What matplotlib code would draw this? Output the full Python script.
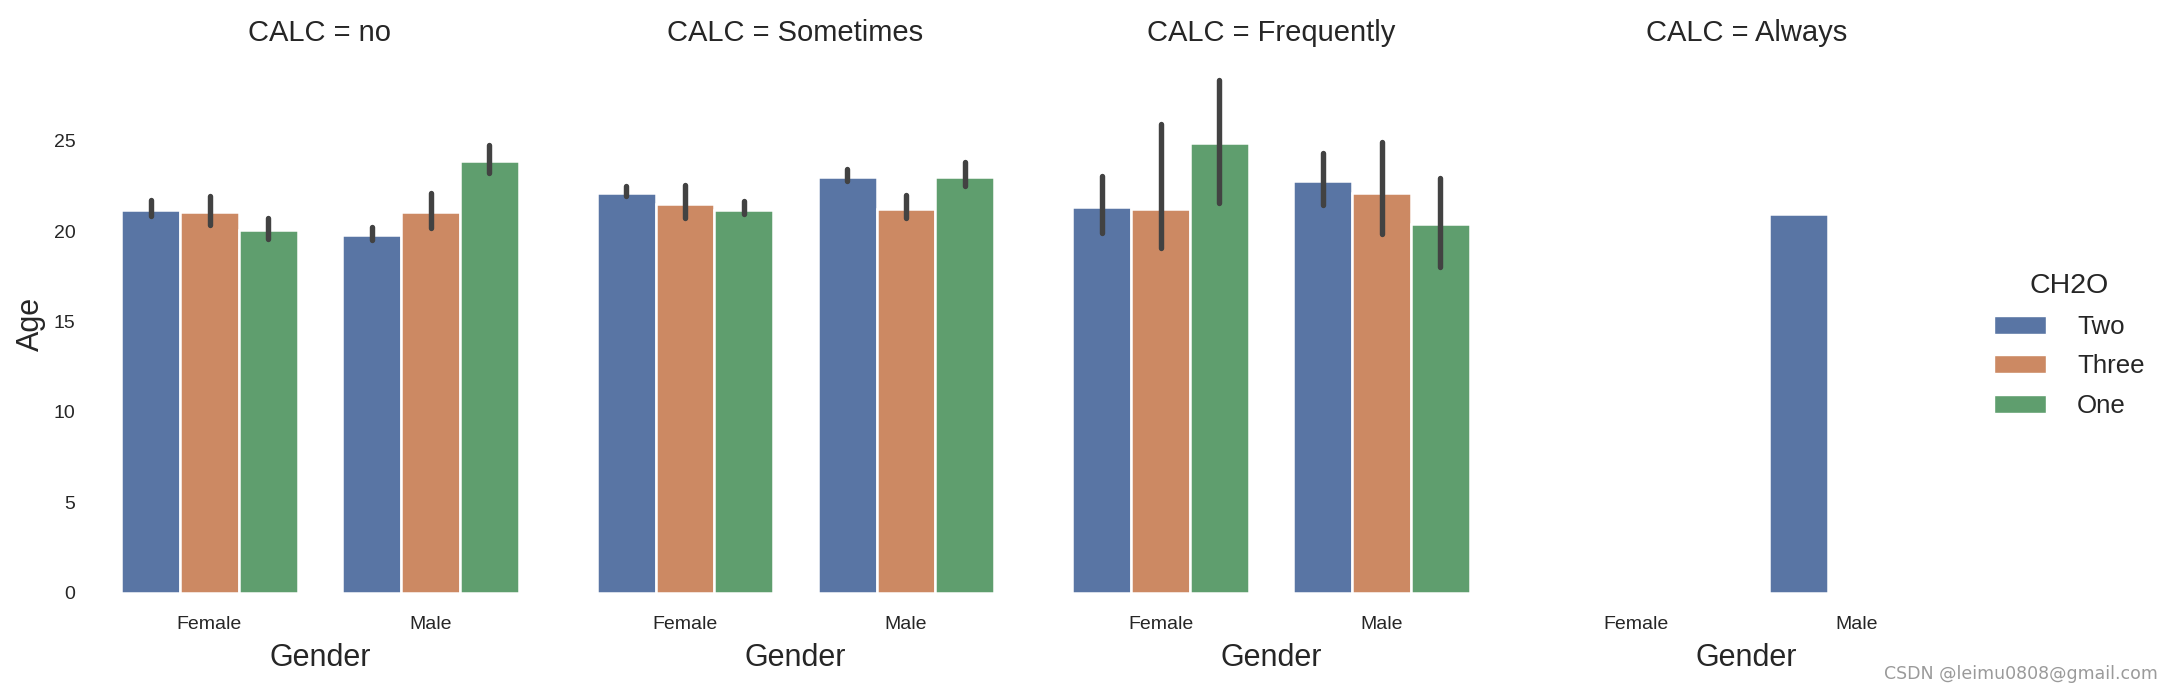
import numpy as np
import matplotlib
matplotlib.use("Agg")
import matplotlib.pyplot as plt
from matplotlib.patches import Patch

plt.rcParams['font.family'] = ['Liberation Sans', 'DejaVu Sans']

# ---------------- data ----------------
calc_levels = ["no", "Sometimes", "Frequently", "Always"]
genders = ["Female", "Male"]
ch2o_levels = ["Two", "Three", "One"]
yticks = [0, 5, 10, 15, 20, 25]

# mean Age per CALC facet: rows = CH2O (Two, Three, One), cols = Gender (Female, Male)
mean_no = [[21.15, 19.76], [21.04, 21.04], [20.04, 23.87]]
mean_sometimes = [[22.12, 23.02], [21.51, 21.23], [21.15, 23.02]]
mean_frequently = [[21.36, 22.80], [21.25, 22.13], [24.90, 20.42]]
mean_always = [[np.nan, 20.97], [np.nan, np.nan], [np.nan, np.nan]]

# confidence interval lower / upper bounds
lo_no = [[20.86, 19.49], [20.36, 20.15], [19.56, 23.20]]
hi_no = [[21.71, 20.20], [21.95, 22.09], [20.71, 24.76]]
lo_sometimes = [[21.96, 22.79], [20.73, 20.73], [20.96, 22.51]]
hi_sometimes = [[22.52, 23.43], [22.54, 21.98], [21.67, 23.81]]
lo_frequently = [[19.92, 21.43], [19.04, 19.83], [21.55, 18.01]]
hi_frequently = [[23.05, 24.30], [25.94, 24.95], [28.34, 22.95]]
lo_always = [[np.nan, np.nan], [np.nan, np.nan], [np.nan, np.nan]]
hi_always = [[np.nan, np.nan], [np.nan, np.nan], [np.nan, np.nan]]

means = [mean_no, mean_sometimes, mean_frequently, mean_always]
lows = [lo_no, lo_sometimes, lo_frequently, lo_always]
highs = [hi_no, hi_sometimes, hi_frequently, hi_always]

colors = ["#5975a4", "#cc8963", "#5f9e6e"]
text_color = "#262626"

# ---------------- layout ----------------
W, H = 2174, 691
fig = plt.figure(figsize=(W / 100, H / 100), dpi=100)
fig.patch.set_facecolor("white")

ax_bottom_px = 592.5
ymax = 29.7
px_per_unit = 18.07
ax_h_px = ymax * px_per_unit
ax_w_px = 442
lefts = [99, 574.5, 1050, 1525.5]

n_h = len(ch2o_levels)
bw = 0.8 / n_h
axes = []
for i, calc in enumerate(calc_levels):
    ax = fig.add_axes([lefts[i] / W, (H - ax_bottom_px) / H, ax_w_px / W, ax_h_px / H])
    axes.append(ax)
    x = np.arange(len(genders))
    m = np.array(means[i], dtype=float)
    lo = np.array(lows[i], dtype=float)
    hi = np.array(highs[i], dtype=float)
    for j, lvl in enumerate(ch2o_levels):
        xs = x + (j - (n_h - 1) / 2) * bw
        ok = ~np.isnan(m[j])
        ax.bar(xs[ok], m[j][ok], width=bw, color=colors[j], edgecolor="white",
               linewidth=1.8, zorder=2)
        ok2 = ok & ~np.isnan(lo[j])
        if ok2.any():
            ax.vlines(xs[ok2], lo[j][ok2], hi[j][ok2], colors="#424242",
                      linewidth=3.9, capstyle="round", zorder=3)
    ax.set_xlim(-0.5, len(genders) - 0.5)
    ax.set_ylim(0, ymax)
    ax.set_xticks(x)
    ax.set_xticklabels(genders)
    ax.set_yticks(yticks)
    if i > 0:
        ax.tick_params(axis="y", labelleft=False)
    ax.tick_params(axis="both", length=0, labelsize=14, colors=text_color, pad=17)
    for s in ax.spines.values():
        s.set_visible(False)
    ax.set_facecolor("white")
    ax.set_title(f"CALC = {calc}", fontsize=21, color=text_color, pad=10.5)
    ax.set_xlabel("Gender", fontsize=22, color=text_color)
    ax.xaxis.set_label_coords(0.5, -0.095)
    if i == 0:
        ax.set_ylabel("Age", fontsize=22, color=text_color)
        ax.yaxis.set_label_coords(-0.12, 0.5)

handles = [Patch(facecolor=c, edgecolor="white", linewidth=1.0) for c in colors]
leg = fig.legend(handles, ch2o_levels, title="CH2O", loc="center left",
                 bbox_to_anchor=(1984 / W, 0.5), borderaxespad=0, frameon=False,
                 fontsize=18.6, title_fontsize=20.5, labelspacing=0.6,
                 handletextpad=1.2, handlelength=2.0)
for t in leg.get_texts():
    t.set_color(text_color)
leg.get_title().set_color(text_color)

fig.text(2158 / W, (H - 679) / H, "CSDN @leimu0808@gmail.com", ha="right", va="baseline",
         fontsize=12.5, color="#9a9a9a", family=["DejaVu Sans"])

fig.savefig("out.png", dpi=100, facecolor="white")
